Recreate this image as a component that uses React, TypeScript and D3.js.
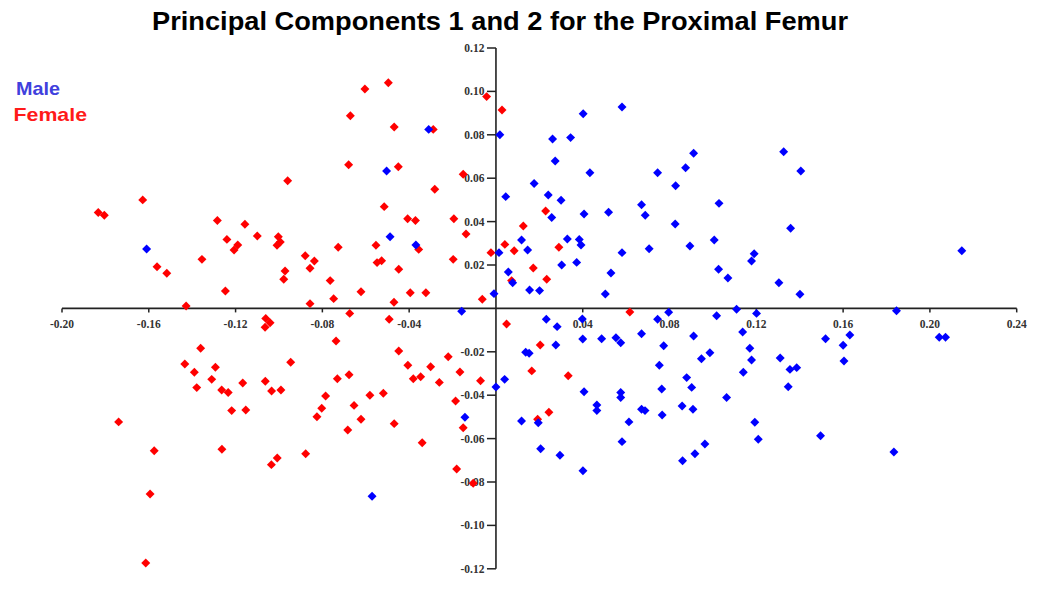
import React from "react";
import * as d3 from "d3";

const title = "Principal Components 1 and 2 for the Proximal Femur";
const seriesNames = ["Male", "Female"];

const xTicks = [-0.2, -0.16, -0.12, -0.08, -0.04, 0.04, 0.08, 0.12, 0.16, 0.2, 0.24];
const yTicks = [0.12, 0.1, 0.08, 0.06, 0.04, 0.02, -0.02, -0.04, -0.06, -0.08, -0.1, -0.12];

const femalePoints: [number, number][] = [
  [-0.0604, 0.1011], [-0.0671, 0.0888], [-0.0679, 0.0662], [-0.096, 0.0588], [-0.1628, 0.05],
  [-0.1833, 0.0442], [-0.1805, 0.0429], [-0.1284, 0.0405], [-0.1157, 0.0388], [-0.11, 0.0334],
  [-0.124, 0.0318], [-0.1003, 0.033], [-0.0994, 0.0306], [-0.1009, 0.0291], [-0.119, 0.0292],
  [-0.1207, 0.0269], [-0.0727, 0.0282], [-0.0553, 0.0291], [-0.0527, 0.022], [-0.0548, 0.0211],
  [-0.1355, 0.0226], [-0.0879, 0.0243], [-0.0837, 0.0218], [-0.0857, 0.0185], [-0.1562, 0.0192],
  [-0.1517, 0.0162], [-0.0972, 0.0172], [-0.0978, 0.0134], [-0.0764, 0.0128], [-0.1247, 0.008],
  [-0.0622, 0.0077], [-0.0748, 0.0045], [-0.0857, 0.0022], [-0.1428, 0.0011], [-0.0674, -0.0023],
  [-0.1061, -0.0046], [-0.1041, -0.0066], [-0.1064, -0.0087], [-0.0737, -0.015], [-0.1361, -0.0184],
  [-0.0946, -0.0248], [-0.1434, -0.0256], [-0.139, -0.0294], [-0.1293, -0.0271], [-0.131, -0.0327],
  [-0.0677, -0.0306], [-0.0731, -0.0324], [-0.1379, -0.0365], [-0.1167, -0.0344], [-0.1063, -0.0336],
  [-0.1264, -0.0376], [-0.1234, -0.0388], [-0.1034, -0.0381], [-0.0991, -0.0376], [-0.0785, -0.0404],
  [-0.0581, -0.04], [-0.0519, -0.0391], [-0.1218, -0.0471], [-0.1153, -0.0468], [-0.0803, -0.046],
  [-0.0825, -0.0499], [-0.0654, -0.0447], [-0.0622, -0.0511], [-0.0683, -0.056], [-0.1739, -0.0523],
  [-0.1575, -0.0656], [-0.1263, -0.0649], [-0.1008, -0.0689], [-0.1035, -0.072], [-0.0877, -0.067],
  [-0.1594, -0.0855], [-0.1614, -0.1173], [-0.0496, 0.104], [-0.0043, 0.0976], [0.0028, 0.0914],
  [-0.0469, 0.0836], [-0.0289, 0.0825], [-0.045, 0.0653], [-0.0151, 0.0618], [-0.0282, 0.0549],
  [-0.0515, 0.0469], [0.0229, 0.0449], [-0.0407, 0.0413], [-0.0371, 0.0405], [-0.0194, 0.0413],
  [-0.0138, 0.0343], [-0.0356, 0.0272], [0.0126, 0.038], [0.0041, 0.0295], [0.029, 0.0282],
  [-0.0023, 0.0257], [0.0084, 0.0266], [-0.0197, 0.0226], [-0.0448, 0.018], [0.0172, 0.0186],
  [0.0072, 0.0128], [0.0234, 0.0134], [-0.0395, 0.0072], [-0.0323, 0.0072], [-0.047, 0.0028],
  [-0.0063, 0.0042], [0.0617, -0.0017], [-0.0492, -0.005], [0.0049, -0.0072], [0.0204, -0.0169],
  [-0.0448, -0.0196], [-0.0406, -0.0262], [-0.0301, -0.0269], [-0.022, -0.0223], [-0.0166, -0.0293],
  [-0.0381, -0.0324], [-0.0347, -0.0315], [-0.0261, -0.0341], [-0.0071, -0.0333], [0.0165, -0.0288],
  [0.0333, -0.031], [-0.0186, -0.0427], [-0.0469, -0.0531], [-0.0151, -0.055], [-0.034, -0.0619],
  [-0.0181, -0.074], [-0.0105, -0.0806], [0.0192, -0.0511], [0.0244, -0.0479],
];

const malePoints: [number, number][] = [
  [-0.161, 0.0274], [-0.0571, -0.0866], [-0.031, 0.0825], [0.0018, 0.08], [0.0261, 0.0781],
  [0.0344, 0.0787], [0.0402, 0.0897], [0.0581, 0.0928], [0.0273, 0.0679], [0.0911, 0.0715],
  [0.0874, 0.0648], [-0.0504, 0.0633], [0.0433, 0.0625], [0.0745, 0.0625], [0.0176, 0.0576],
  [0.0828, 0.0565], [0.0045, 0.0515], [0.0241, 0.0523], [0.03, 0.0498], [0.0671, 0.0478],
  [0.0688, 0.0429], [0.0406, 0.0435], [0.0519, 0.0443], [0.0257, 0.0419], [0.0826, 0.0389],
  [0.1326, 0.0722], [0.1405, 0.0633], [0.1028, 0.0484], [-0.0488, 0.033], [-0.0369, 0.0292],
  [0.0118, 0.0315], [0.0146, 0.0269], [0.0329, 0.032], [0.0384, 0.0318], [0.0392, 0.0292],
  [0.0014, 0.0257], [0.0581, 0.0257], [0.0706, 0.0275], [0.0894, 0.0288], [0.1006, 0.0315],
  [0.0057, 0.0168], [0.0303, 0.02], [0.0372, 0.0212], [0.053, 0.0163], [0.0077, 0.0118],
  [0.0155, 0.0085], [0.0201, 0.0082], [0.0504, 0.0066], [-0.0009, 0.0068], [-0.0158, -0.0013],
  [0.0796, -0.0018], [0.0232, -0.005], [0.0282, -0.0084], [0.0398, -0.0049], [0.0745, -0.005],
  [0.04, -0.0141], [0.0487, -0.014], [0.0553, -0.0135], [0.0575, -0.0158], [0.0671, -0.0117],
  [0.0773, -0.0172], [0.0911, -0.0127], [0.0947, -0.0232], [0.0986, -0.0204], [0.0276, -0.0169],
  [0.0137, -0.0202], [0.0153, -0.0207], [0.004, -0.0327], [0.0, -0.0362], [0.0753, -0.0262],
  [0.0879, -0.0319], [0.0902, -0.0364], [0.0764, -0.0371], [0.0406, -0.0384], [0.0575, -0.0388],
  [0.0575, -0.0411], [-0.0143, -0.0502], [0.0118, -0.0519], [0.0195, -0.0527], [0.0465, -0.0445],
  [0.0465, -0.0471], [0.0613, -0.0523], [0.0671, -0.0465], [0.0687, -0.0471], [0.0766, -0.0491],
  [0.0858, -0.045], [0.0908, -0.0465], [0.0206, -0.0647], [0.0295, -0.0677], [0.0401, -0.0748],
  [0.0581, -0.0614], [0.086, -0.0702], [0.0917, -0.067], [0.0963, -0.0625], [0.1358, 0.0369],
  [0.2147, 0.0266], [0.119, 0.0252], [0.1178, 0.0218], [0.1026, 0.018], [0.1069, 0.014],
  [0.1304, 0.0118], [0.1401, 0.0065], [0.1109, -0.0004], [0.1017, -0.0034], [0.1201, -0.0023],
  [0.1846, -0.0011], [0.1137, -0.0109], [0.1519, -0.014], [0.1631, -0.0123], [0.16, -0.017],
  [0.1604, -0.0242], [0.2043, -0.0133], [0.2072, -0.0133], [0.117, -0.0184], [0.1178, -0.0238],
  [0.131, -0.0229], [0.1355, -0.0281], [0.1386, -0.0273], [0.114, -0.0294], [0.1347, -0.0361],
  [0.1063, -0.0411], [0.1193, -0.0525], [0.1209, -0.0603], [0.1496, -0.0587], [0.1834, -0.0662],
];

const W = 1053;
const H = 603;

export default function App() {
  const x = d3.scaleLinear().domain([-0.2, 0.24]).range([62, 1016.7]);
  const y = d3.scaleLinear().domain([-0.12, 0.12]).range([568.8, 48]);
  const x0 = x(0);
  const y0 = y(0);
  const diamond = d3.symbol(d3.symbolSquare, 40)() as string;
  const fmt = (v: number) => v.toFixed(2);
  const tickFont = "'Liberation Serif', 'DejaVu Serif', serif";
  const sans = "'Liberation Sans', Arial, sans-serif";

  return (
    <svg width={W} height={H} style={{ position: "absolute", left: 0, top: 0, background: "#fff" }}>
      <rect width={W} height={H} fill="#fff" />
      <text x={152} y={30} fontFamily={sans} fontWeight="bold" fontSize={26} fill="#000"
        textLength={696} lengthAdjust="spacingAndGlyphs">
        {title}
      </text>
      <text x={16} y={94.5} fontFamily={sans} fontWeight="bold" fontSize={19} fill="#4040DD"
        textLength={44} lengthAdjust="spacingAndGlyphs">
        {seriesNames[0]}
      </text>
      <text x={13.5} y={120.5} fontFamily={sans} fontWeight="bold" fontSize={19} fill="#FF1A1A"
        textLength={73.5} lengthAdjust="spacingAndGlyphs">
        {seriesNames[1]}
      </text>

      {/* x axis */}
      <line x1={x(-0.2)} x2={x(0.24)} y1={y0} y2={y0} stroke="#222" strokeWidth={1.6} />
      {xTicks.map((t) => (
        <g key={"xt" + t}>
          <line x1={x(t)} x2={x(t)} y1={y0} y2={y0 + 4} stroke="#222" strokeWidth={1.5} />
          <text x={x(t)} y={y0 + 20} textAnchor="middle" fontFamily={tickFont} fontWeight="bold" fontSize={11.5} fill="#333">
            {fmt(t)}
          </text>
        </g>
      ))}

      {/* y axis */}
      <line x1={x0} x2={x0} y1={y(0.12)} y2={y(-0.12)} stroke="#222" strokeWidth={1.6} />
      {yTicks.map((t) => (
        <g key={"yt" + t}>
          <line x1={x0 - 9} x2={x0} y1={y(t)} y2={y(t)} stroke="#222" strokeWidth={1.5} />
          <text x={x0 - 11.5} y={y(t) + 4} textAnchor="end" fontFamily={tickFont} fontWeight="bold" fontSize={11.5} fill="#333">
            {fmt(t)}
          </text>
        </g>
      ))}

      {femalePoints.map((p, i) => (
        <path key={"f" + i} d={diamond} transform={`translate(${x(p[0])},${y(p[1])}) rotate(45)`} fill="#FF0000" />
      ))}
      {malePoints.map((p, i) => (
        <path key={"m" + i} d={diamond} transform={`translate(${x(p[0])},${y(p[1])}) rotate(45)`} fill="#0000FF" />
      ))}
    </svg>
  );
}
